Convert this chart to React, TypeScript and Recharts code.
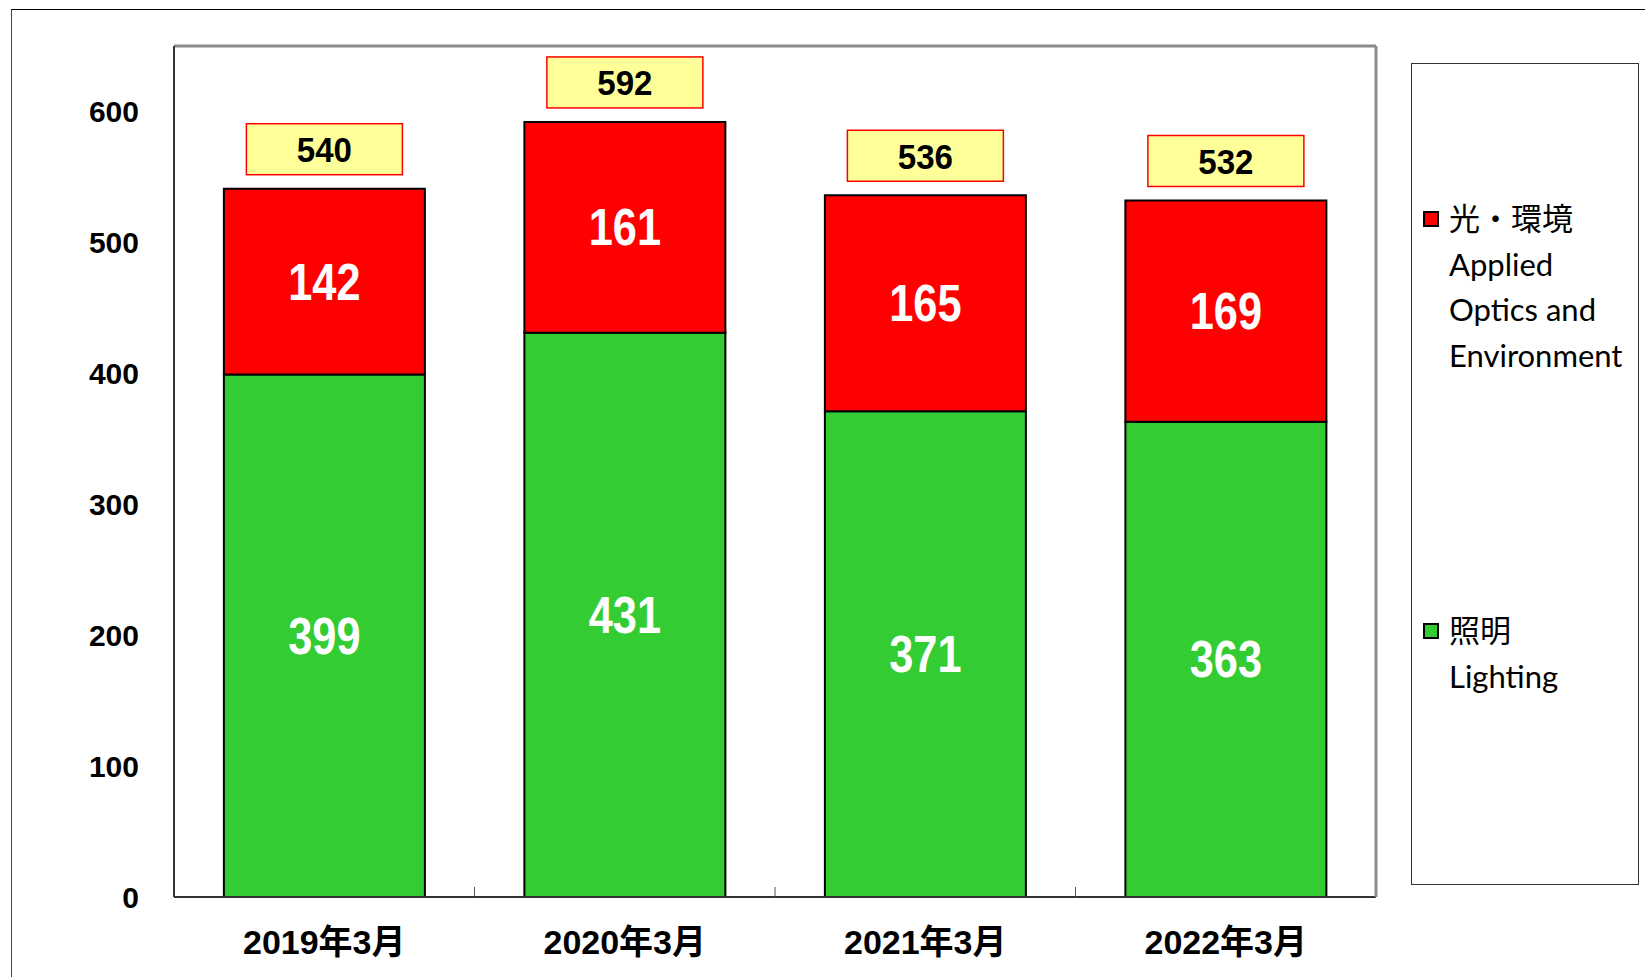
import { Bar, BarChart, CartesianGrid, LabelList, ReferenceLine, XAxis, YAxis } from "recharts";

const categories = ["2019年3月", "2020年3月", "2021年3月", "2022年3月"];
const lighting = [399, 431, 371, 363];
const optics = [142, 161, 165, 169];
const totals = [540, 592, 536, 532];
const yTicks = [0, 100, 200, 300, 400, 500, 600];

const series = [
  { key: "optics", name: "光・環境", sub: ["Applied", "Optics and", "Environment"], color: "#FF0000" },
  { key: "lighting", name: "照明", sub: ["Lighting"], color: "#33CC33" },
];

const data = categories.map((c, i) => ({
  name: c,
  lighting: lighting[i],
  optics: optics[i],
  total: totals[i],
}));

const boldFont = "'Liberation Sans', Arial, 'Noto Sans CJK JP', sans-serif";

const XTick = (props: any) => {
  const { x, y, payload, index } = props;
  const half = payload && payload.offset ? payload.offset : 150;
  return (
    <g>
      {index > 0 && (
        <line x1={x - half} x2={x - half} y1={y} y2={y - 10} stroke="#555" strokeWidth={1} />
      )}
      <text x={x} y={y + 57} textAnchor="middle" fontFamily={boldFont} fontWeight="bold" fontSize={34} fill="#000">
        {payload.value}
      </text>
    </g>
  );
};

// white value inside each segment, slightly condensed like the original
const InnerLabel = (props: any) => {
  const { x, y, width, height, value } = props;
  const cx = x + width / 2;
  const cy = y + height / 2;
  return (
    <text
      transform={`translate(${cx},${cy + 18}) scale(0.85,1)`}
      textAnchor="middle"
      fontFamily={boldFont}
      fontWeight="bold"
      fontSize={51}
      fill="#fff"
    >
      {value}
    </text>
  );
};

const TotalLabel = (props: any) => {
  const { x, y, width, value } = props;
  const cx = x + width / 2;
  const w = 156;
  const h = 51;
  const bottom = y - 14;
  return (
    <g>
      <rect x={cx - w / 2} y={bottom - h} width={w} height={h} fill="#FFFF99" stroke="#FF0000" strokeWidth={1.5} />
      <text
        transform={`translate(${cx},${bottom - h / 2 + 13}) scale(0.92,1)`}
        textAnchor="middle"
        fontFamily={boldFont}
        fontWeight="bold"
        fontSize={36}
        fill="#000"
      >
        {value}
      </text>
    </g>
  );
};

const LegendBox = () => (
  <div
    style={{
      position: "absolute",
      left: 1411,
      top: 63,
      width: 228,
      height: 822,
      boxSizing: "border-box",
      border: "1px solid #333",
      background: "#fff",
      fontFamily: "Lato, 'Noto Sans CJK JP', sans-serif",
      fontSize: 31,
      lineHeight: "45.5px",
      color: "#000",
    }}
  >
    {series.map((s, i) => (
      <div key={s.key} style={{ position: "absolute", left: 11, top: i === 0 ? 132 : 544 }}>
        <div style={{ display: "flex", alignItems: "center" }}>
          <span
            style={{
              width: 16,
              height: 16,
              boxSizing: "border-box",
              border: "2px solid #000",
              background: s.color,
              marginRight: 10,
            }}
          />
          <span>{s.name}</span>
        </div>
        {s.sub.map((line) => (
          <div key={line} style={{ paddingLeft: 26, whiteSpace: "nowrap" }}>
            {line}
          </div>
        ))}
      </div>
    ))}
  </div>
);

export default function App() {
  return (
    <div
      style={{
        position: "fixed",
        left: 0,
        top: 0,
        width: 1645,
        height: 977,
        overflow: "hidden",
        background: "#fff",
      }}
    >
      <div
        style={{
          position: "absolute",
          left: 11,
          top: 9,
          width: 1700,
          height: 1100,
          borderTop: "1px solid #000",
          borderLeft: "1px solid #444",
        }}
      />
      <div style={{ position: "absolute", left: 0, top: 0 }}>
        <BarChart
          width={1645}
          height={977}
          data={data}
          margin={{ top: 46, right: 268, bottom: 0, left: 0 }}
          barCategoryGap="16.6%"
        >
          <CartesianGrid vertical={false} stroke="#808080" strokeWidth={1} />
          <XAxis
            dataKey="name"
            height={80}
            axisLine={{ stroke: "#333", strokeWidth: 2 }}
            tickLine={false}
            tickSize={0}
            tickMargin={0}
            tick={<XTick />}
            interval={0}
          />
          <YAxis
            yAxisId="left"
            width={174}
            domain={[0, 650]}
            ticks={yTicks}
            axisLine={{ stroke: "#333", strokeWidth: 2 }}
            tickLine={false}
            tickSize={0}
            tickMargin={35}
            tick={{ fill: "#000", fontSize: 30, fontWeight: "bold", fontFamily: boldFont }}
          />
          <YAxis
            yAxisId="right"
            orientation="right"
            width={1}
            domain={[0, 650]}
            ticks={[]}
            tick={false}
            tickLine={false}
            axisLine={{ stroke: "#8a8a8a", strokeWidth: 3 }}
          />
          <ReferenceLine yAxisId="left" y={650} stroke="#8a8a8a" strokeWidth={3} />
          <Bar
            yAxisId="left"
            dataKey="lighting"
            stackId="a"
            fill="#33CC33"
            stroke="#000"
            strokeWidth={2}
            isAnimationActive={false}
          >
            <LabelList dataKey="lighting" content={<InnerLabel />} />
          </Bar>
          <Bar
            yAxisId="left"
            dataKey="optics"
            stackId="a"
            fill="#FF0000"
            stroke="#000"
            strokeWidth={2}
            isAnimationActive={false}
          >
            <LabelList dataKey="optics" content={<InnerLabel />} />
            <LabelList dataKey="total" content={<TotalLabel />} />
          </Bar>
        </BarChart>
      </div>
      <LegendBox />
    </div>
  );
}
